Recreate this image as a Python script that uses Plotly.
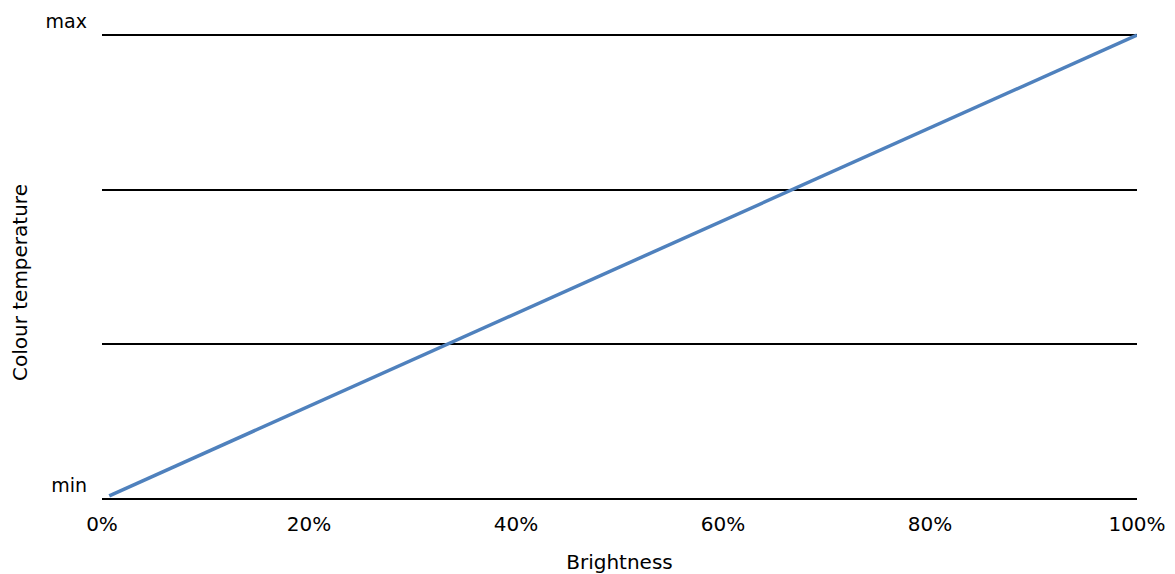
import plotly.graph_objects as go

brightness = [0.7, 100]
colour_temp = [0.02, 3]
x_ticks = [0, 20, 40, 60, 80, 100]
x_ticktext = ["0%", "20%", "40%", "60%", "80%", "100%"]
y_ticks = [0, 1, 2, 3]
y_ticktext = ["min", "", "", "max"]

fig = go.Figure()
fig.add_trace(go.Scatter(x=brightness, y=colour_temp, mode="lines",
                         line=dict(color="#4F81BD", width=3.5), showlegend=False))

fig.update_layout(
    width=1175, height=574,
    margin=dict(l=94, r=46, t=24, b=80, autoexpand=False),
    paper_bgcolor="white", plot_bgcolor="white",
    font=dict(family="DejaVu Sans", size=19, color="black"),
    annotations=[dict(text="Colour temperature", textangle=-90, xref="paper", yref="paper",
                      x=-0.0792, y=0.466, showarrow=False, xanchor="center", yanchor="middle",
                      font=dict(size=20))],
)
fig.update_xaxes(range=[0, 100], tickvals=x_ticks, ticktext=x_ticktext, showgrid=False,
                 zeroline=False, showline=False, automargin=False,
                 title=dict(text="Brightness", standoff=19, font=dict(size=20)),
                 tickfont=dict(size=20), ticks="", ticklabelstandoff=8)
fig.update_yaxes(range=[-0.02, 3.02], tickvals=y_ticks, ticktext=y_ticktext, showgrid=True,
                 gridcolor="black", gridwidth=1.5, zeroline=False, showline=False,
                 automargin=False, ticks="",
                 ticklabelposition="outside top", ticklabelstandoff=14,
                 tickfont=dict(size=19))

fig.write_html("out.html")
